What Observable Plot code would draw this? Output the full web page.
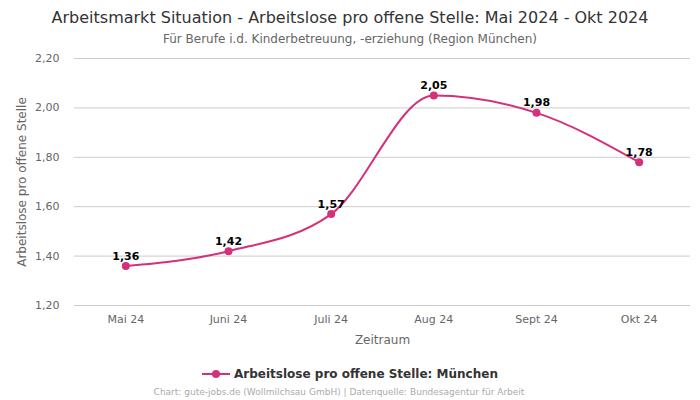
<!DOCTYPE html>
<html><head><meta charset="utf-8">
<script src="https://cdn.jsdelivr.net/npm/d3@7"></script>
<script src="https://cdn.jsdelivr.net/npm/@observablehq/plot@0.6"></script>
<style>
body{margin:0;width:700px;height:400px;overflow:hidden;background:#fff;font-family:"DejaVu Sans",sans-serif;position:relative}
#title{position:absolute;top:8px;left:0;width:700px;text-align:center;font-size:16px;color:#333}
#sub{position:absolute;top:32px;left:0;width:700px;text-align:center;font-size:12px;color:#666}
#chart{position:absolute;top:50px;left:0}
#legend{position:absolute;top:367px;left:0;width:700px;text-align:center;font-size:12px;font-weight:bold;color:#333;display:flex;justify-content:center;align-items:center}
#cap{position:absolute;top:387px;left:-11px;width:700px;text-align:center;font-size:9px;color:#aaa}
</style></head>
<body>
<div id="title">Arbeitsmarkt Situation - Arbeitslose pro offene Stelle: Mai 2024 - Okt 2024</div>
<div id="sub">Für Berufe i.d. Kinderbetreuung, -erziehung (Region München)</div>
<div id="chart"></div>
<div id="legend"><svg width="28" height="12" style="margin-right:4px"><line x1="0" y1="6" x2="28" y2="6" stroke="#d4317a" stroke-width="2"/><circle cx="14" cy="6" r="4" fill="#d4317a"/></svg><span>Arbeitslose pro offene Stelle: München</span></div>
<div id="cap">Chart: gute-jobs.de (Wollmilchsau GmbH) | Datenquelle: Bundesagentur für Arbeit</div>
<script>
const months = ["Mai 24","Juni 24","Juli 24","Aug 24","Sept 24","Okt 24"];
const values = [1.36,1.42,1.57,2.05,1.98,1.78];
const yTicks = [1.2,1.4,1.6,1.8,2.0,2.2];
const seriesName = "Arbeitslose pro offene Stelle: München";
const color = "#d4317a";
const data = months.map((m,i)=>({month:m,value:values[i]}));
const fmt = d => d.toFixed(2).replace(".", ",");
const chart = Plot.plot({
  width:700, height:300,
  marginLeft:74, marginRight:10, marginTop:8, marginBottom:45,
  style:{fontFamily:"DejaVu Sans, sans-serif", fontSize:"11px", color:"#666"},
  x:{type:"point", domain:months, padding:0.5, round:false},
  y:{domain:[1.2,2.2]},
  marks:[
    Plot.gridY(yTicks,{stroke:"#ccc", strokeOpacity:1}),
    Plot.ruleY([1.2],{stroke:"#c6cbd6"}),
    Plot.axisY(yTicks,{tickSize:0, tickPadding:15, tickFormat:fmt, label:null, fontSize:11, fill:"#666"}),
    Plot.axisX({tickSize:0, tickPadding:10, label:null, fontSize:11, fill:"#666"}),
    Plot.text(["Arbeitslose pro offene Stelle"],{frameAnchor:"left", textAnchor:"middle", lineAnchor:"middle", dx:-52, rotate:-90, fontSize:12, fill:"#666"}),
    Plot.text(["Zeitraum"],{frameAnchor:"bottom", lineAnchor:"middle", dy:35, fontSize:12, fill:"#666"}),
    Plot.line(data,{x:"month", y:"value", stroke:color, strokeWidth:2, curve:"monotone-x"}),
    Plot.dot(data,{x:"month", y:"value", fill:color, r:4}),
    Plot.text(data,{x:"month", y:"value", text:d=>fmt(d.value), dy:-10, fontWeight:"bold", fontSize:11, fill:"#000"})
  ]
});
document.getElementById("chart").appendChild(chart);
</script>
</body></html>
